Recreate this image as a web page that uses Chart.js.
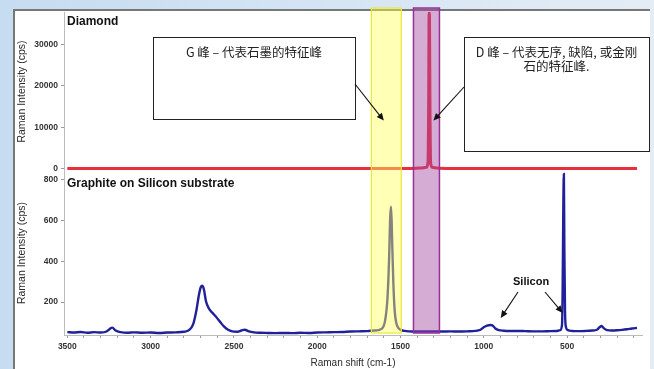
<!DOCTYPE html>
<html>
<head>
<meta charset="utf-8">
<script src="https://cdn.jsdelivr.net/npm/chart.js@4.4.1/dist/chart.umd.min.js"></script>
<style>
  html, body { margin: 0; padding: 0; overflow: hidden; background: #dbe8f5; }
  #chart { display: block; }
</style>
</head>
<body>
<canvas id="chart" width="654" height="369"></canvas>
<script>
// Raman shift (cm-1) and counts
const graphiteShift = [3500, 3460, 3420, 3380, 3340, 3300, 3265, 3245, 3230, 3210, 3180, 3140, 3100, 3050, 3000, 2950, 2900, 2850, 2800, 2770, 2745, 2725, 2710, 2698, 2690, 2680, 2668, 2650, 2630, 2610, 2585, 2560, 2535, 2510, 2480, 2455, 2435, 2410, 2380, 2340, 2300, 2250, 2200, 2150, 2100, 2050, 2000, 1950, 1900, 1850, 1800, 1750, 1700, 1660, 1615, 1592, 1578, 1568, 1562, 1557, 1553, 1549, 1543, 1535, 1526, 1512, 1495, 1475, 1450, 1400, 1350, 1300, 1250, 1200, 1150, 1100, 1050, 1020, 1000, 980, 960, 945, 930, 910, 880, 840, 800, 750, 700, 650, 600, 560, 540, 530, 526, 522, 519, 516, 512, 506, 495, 470, 430, 390, 350, 320, 305, 292, 280, 260, 230, 200, 170, 140, 110, 80];
const graphiteCounts = [52, 50, 53, 49, 52, 50, 55, 68, 74, 60, 52, 49, 51, 49, 50, 48, 50, 51, 54, 62, 90, 160, 235, 275, 280, 262, 205, 168, 148, 130, 105, 80, 64, 56, 54, 60, 64, 56, 51, 49, 48, 47, 48, 47, 49, 48, 50, 51, 52, 53, 55, 56, 57, 60, 68, 110, 220, 420, 610, 668, 600, 470, 300, 160, 100, 72, 62, 58, 56, 55, 55, 56, 55, 56, 55, 56, 58, 64, 76, 84, 87, 84, 70, 62, 59, 58, 58, 57, 56, 56, 57, 58, 62, 90, 300, 700, 830, 450, 150, 75, 62, 58, 57, 58, 60, 64, 76, 82, 72, 62, 60, 61, 63, 66, 70, 73];
const diamondShift = [3500, 1450, 1380, 1345, 1335, 1331, 1328, 1326, 1323, 1319, 1309, 1280, 1200, 80];
const diamondCounts = [0, 0, 100, 300, 1400, 14800, 37800, 37000, 14800, 1400, 300, 100, 0, 0];

// axis ticks
const shiftLabels = [3500, 3000, 2500, 2000, 1500, 1000, 500];
const diamondTicks = [0, 10000, 20000, 30000];
const graphiteTicks = [200, 400, 600, 800];

// highlighted peak regions (cm-1)
const gBand = [1675, 1495];
const dBand = [1422, 1266];

const GREY = '#9a9a9a';

function arrow(ctx, x1, y1, x2, y2) {
  const a = Math.atan2(y2 - y1, x2 - x1);
  const h = 8;
  ctx.save();
  ctx.strokeStyle = '#111';
  ctx.fillStyle = '#111';
  ctx.lineWidth = 1.1;
  ctx.beginPath();
  ctx.moveTo(x1, y1);
  ctx.lineTo(x2 - Math.cos(a) * h * 0.8, y2 - Math.sin(a) * h * 0.8);
  ctx.stroke();
  ctx.beginPath();
  ctx.moveTo(x2, y2);
  ctx.lineTo(x2 - h * Math.cos(a - 0.42), y2 - h * Math.sin(a - 0.42));
  ctx.lineTo(x2 - h * Math.cos(a + 0.42), y2 - h * Math.sin(a + 0.42));
  ctx.closePath();
  ctx.fill();
  ctx.restore();
}

function noteBox(ctx, x, y, w, h, lines) {
  ctx.save();
  ctx.fillStyle = '#fff';
  ctx.fillRect(x, y, w, h);
  ctx.strokeStyle = '#222';
  ctx.lineWidth = 1;
  ctx.strokeRect(x + 0.5, y + 0.5, w, h);
  ctx.fillStyle = '#222';
  ctx.font = '12.5px "Noto Sans CJK SC", "Liberation Sans", sans-serif';
  ctx.textAlign = 'center';
  ctx.textBaseline = 'middle';
  lines.forEach((t, i) => ctx.fillText(t, x + w / 2, y + 15 + i * 14));
  ctx.restore();
}

const slidePlugin = {
  id: 'slide',
  beforeDraw(chart) {
    const ctx = chart.ctx;
    const W = chart.width, H = chart.height;
    ctx.save();
    const g = ctx.createLinearGradient(0, 0, W, 0);
    g.addColorStop(0, '#c6dcf1');
    g.addColorStop(1, '#e4edf6');
    ctx.fillStyle = g;
    ctx.fillRect(0, 0, W, H);
    ctx.fillStyle = '#fff';
    ctx.fillRect(14, 10, 636, H);
    ctx.strokeStyle = '#777';
    ctx.lineWidth = 2;
    ctx.beginPath();
    ctx.moveTo(14, H);
    ctx.lineTo(14, 10);
    ctx.lineTo(650, 10);
    ctx.stroke();
    ctx.restore();
  },
  afterDatasetsDraw(chart) {
    const {ctx, chartArea, scales} = chart;
    const top = chartArea.top - 4, bottom = chartArea.bottom - 2;
    const band = (range, fill, stroke, lw) => {
      const x1 = scales.x.getPixelForValue(range[0]);
      const x2 = scales.x.getPixelForValue(range[1]);
      ctx.save();
      ctx.fillStyle = fill;
      ctx.fillRect(x1, top, x2 - x1, bottom - top);
      ctx.strokeStyle = stroke;
      ctx.lineWidth = lw;
      ctx.strokeRect(x1, top, x2 - x1, bottom - top);
      ctx.restore();
    };
    band(gBand, 'rgba(255,255,90,0.45)', '#e8e83a', 1.2);
    band(dBand, 'rgba(160,70,160,0.45)', '#983098', 1.5);
  },
  afterDraw(chart) {
    const {ctx, chartArea, scales} = chart;
    const x = scales.x, yt = scales.yTop, yb = scales.yBot;
    ctx.save();
    ctx.fillStyle = '#111';
    ctx.font = 'bold 12px "Liberation Sans", Arial, sans-serif';
    ctx.textBaseline = 'middle';
    ctx.fillText('Diamond', chartArea.left + 3, chartArea.top + 10);
    ctx.fillText('Graphite on Silicon substrate', chartArea.left + 3, yb.top + 13);
    ctx.font = 'bold 11px "Liberation Sans", Arial, sans-serif';
    ctx.textAlign = 'center';
    ctx.fillText('Silicon', x.getPixelForValue(716), yb.getPixelForValue(298));
    ctx.restore();

    noteBox(ctx, 153, 37, 202, 82, ['G 峰 – 代表石墨的特征峰']);
    noteBox(ctx, 464, 37, 185, 114, ['D 峰 – 代表无序, 缺陷, 或金刚', '石的特征峰.']);

    arrow(ctx, 355, 84, x.getPixelForValue(1600), yt.getPixelForValue(11600));
    arrow(ctx, 464, 87, x.getPixelForValue(1302), yt.getPixelForValue(11600));
    arrow(ctx, 518, 292, x.getPixelForValue(898), yb.getPixelForValue(122));
    arrow(ctx, 545, 292, x.getPixelForValue(526), yb.getPixelForValue(146));
  }
};

const toPoints = (xs, ys) => xs.map((v, i) => ({x: v, y: ys[i]}));

const yAxis = (ticks, min, max, weight) => ({
  type: 'linear',
  position: 'left',
  stack: 'raman',
  stackWeight: weight,
  min: min,
  max: max,
  afterBuildTicks: s => { s.ticks = ticks.map(v => ({value: v})); },
  afterFit: s => { s.width = 50; },
  grid: { drawOnChartArea: false, tickLength: 3, color: GREY },
  border: { color: '#bbb', dash: [2, 2] },
  ticks: { color: '#333', font: { size: 8.5, weight: 'bold', family: 'Liberation Sans' }, padding: 3,
           callback: v => String(v) },
  title: { display: true, text: 'Raman Intensity (cps)', color: '#2a2a2a',
           font: { size: 10.5, family: 'Liberation Sans' }, padding: { top: 2, bottom: 0 } }
});

new Chart(document.getElementById('chart'), {
  type: 'line',
  data: {
    datasets: [
      { label: 'Graphite on Silicon substrate', data: toPoints(graphiteShift, graphiteCounts),
        yAxisID: 'yBot', borderColor: '#20209a', borderWidth: 2.4, pointRadius: 0,
        cubicInterpolationMode: 'monotone' },
      { label: 'Diamond', data: toPoints(diamondShift, diamondCounts),
        yAxisID: 'yTop', borderColor: '#e8303c', borderWidth: 3, pointRadius: 0,
        cubicInterpolationMode: 'monotone' }
    ]
  },
  options: {
    responsive: false,
    animation: false,
    layout: { padding: { left: 14, top: 12, right: 12, bottom: 0 } },
    plugins: { legend: { display: false }, tooltip: { enabled: false } },
    scales: {
      x: {
        type: 'linear',
        reverse: true,
        min: 50,
        max: 3520,
        afterBuildTicks: s => {
          const t = [];
          for (let v = 3500; v >= 100; v -= 100) t.push({value: v});
          s.ticks = t;
        },
        afterFit: s => { s.height = 34; },
        grid: { drawOnChartArea: false, tickLength: 3, color: GREY },
        border: { color: '#bbb', dash: [2, 2] },
        ticks: { autoSkip: false, maxRotation: 0, color: '#333', padding: 4,
                 font: { size: 8.5, weight: 'bold', family: 'Liberation Sans' },
                 callback: v => shiftLabels.includes(v) ? String(v) : '' },
        title: { display: true, text: 'Raman shift (cm-1)', color: '#2a2a2a',
                 font: { size: 10, family: 'Liberation Sans' }, padding: { top: 0, bottom: 0 } }
      },
      yBot: yAxis(graphiteTicks, 38, 844, 164),
      yTop: yAxis(diamondTicks, -605, 37900, 159)
    }
  },
  plugins: [slidePlugin]
});
</script>
</body>
</html>
